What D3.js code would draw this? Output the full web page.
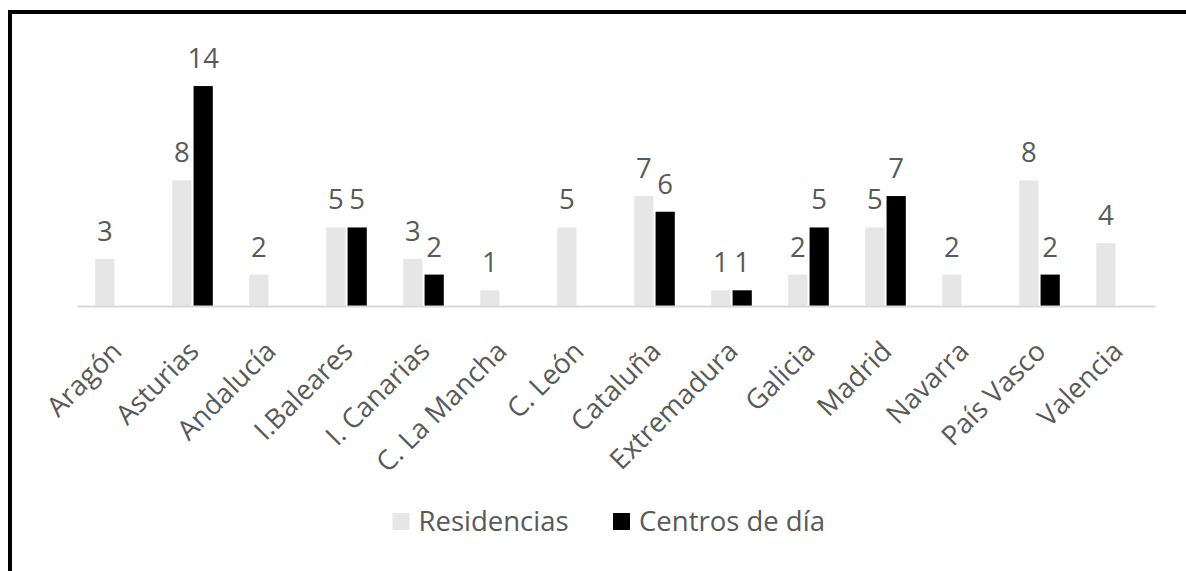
<!DOCTYPE html>
<html><head><meta charset="utf-8">
<script src="https://cdn.jsdelivr.net/npm/d3@7"></script>
<style>
html,body{margin:0;padding:0;background:#fff;}
svg{display:block;}
text{font-family:"Open Sans", sans-serif;fill:#595959;}
</style></head>
<body>
<svg id="chart" width="1186" height="571"></svg>
<script>
const categories = ["Aragón","Asturias","Andalucía","I.Baleares","I. Canarias","C. La Mancha","C. León","Cataluña","Extremadura","Galicia","Madrid","Navarra","País Vasco","Valencia"];
const residencias = [3,8,2,5,3,1,5,7,1,2,5,2,8,4];
const centrosDia = [null,14,null,5,2,null,null,6,1,5,7,null,2,null];
const seriesNames = ["Residencias","Centros de día"];
const seriesColors = ["#E6E6E6","#000000"];

const W = 1186, H = 571;
const svg = d3.select("#chart");
const fs = 27.5;

// frame (clipped border)
svg.append("rect").attr("x",0).attr("y",0).attr("width",W).attr("height",H).attr("fill","#fff");
svg.append("line").attr("x1",8).attr("x2",W).attr("y1",12).attr("y2",12).attr("stroke","#000").attr("stroke-width",4);
svg.append("line").attr("x1",10).attr("x2",10).attr("y1",10).attr("y2",H).attr("stroke","#000").attr("stroke-width",4);

const plot = {left:77, right:1155, base:306};
const x0 = d3.scaleBand().domain(categories).range([plot.left, plot.right]).paddingInner(0).paddingOuter(0);
const groupW = 40.6;
const x1 = d3.scaleBand().domain(seriesNames).range([0, groupW]).paddingInner(0.1);
const y = d3.scaleLinear().domain([0,16]).range([plot.base, plot.base - 16*15.71]);

const data = categories.map((c,i)=>({cat:c, vals:[residencias[i], centrosDia[i]]}));

const g = svg.append("g");
const groups = g.selectAll("g.grp").data(data).join("g")
  .attr("transform", d=>`translate(${x0(d.cat) + (x0.bandwidth()-groupW)/2},0)`);

groups.selectAll("rect").data(d=>d.vals.map((v,j)=>({v, s:seriesNames[j], j})).filter(e=>e.v!=null))
  .join("rect")
  .attr("x", e=>x1(e.s)).attr("width", x1.bandwidth())
  .attr("y", e=>y(e.v)).attr("height", e=>y(0)-y(e.v))
  .attr("fill", e=>seriesColors[e.j]);

groups.selectAll("text.lbl").data(d=>d.vals.map((v,j)=>({v, s:seriesNames[j], j})).filter(e=>e.v!=null))
  .join("text").attr("class","lbl")
  .attr("x", e=>x1(e.s)+x1.bandwidth()/2)
  .attr("y", e=>y(e.v)-18)
  .attr("text-anchor","middle")
  .attr("font-size", fs)
  .text(e=>e.v);

// axis baseline
const xAxis = d3.axisBottom(x0).tickSize(0).tickPadding(0);
const ax = svg.append("g").attr("transform",`translate(0,${plot.base})`).call(xAxis);
ax.select(".domain").attr("stroke","#D9D9D9").attr("stroke-width",2);
ax.selectAll(".tick text")
  .attr("font-size", fs)
  .attr("fill","#595959")
  .attr("font-family","'Open Sans', sans-serif")
  .attr("text-anchor","end")
  .attr("dy",null).attr("y",null)
  .attr("transform","translate(8,47) rotate(-45)");

// legend
const leg = svg.append("g");
const legX = [392.5, 613];
seriesNames.forEach((n,i)=>{
  leg.append("rect").attr("x",legX[i]).attr("y",513).attr("width",17).attr("height",17).attr("fill",seriesColors[i]);
  leg.append("text").attr("x",legX[i]+26).attr("y",531).attr("font-size",fs).text(n);
});
</script>
</body></html>
